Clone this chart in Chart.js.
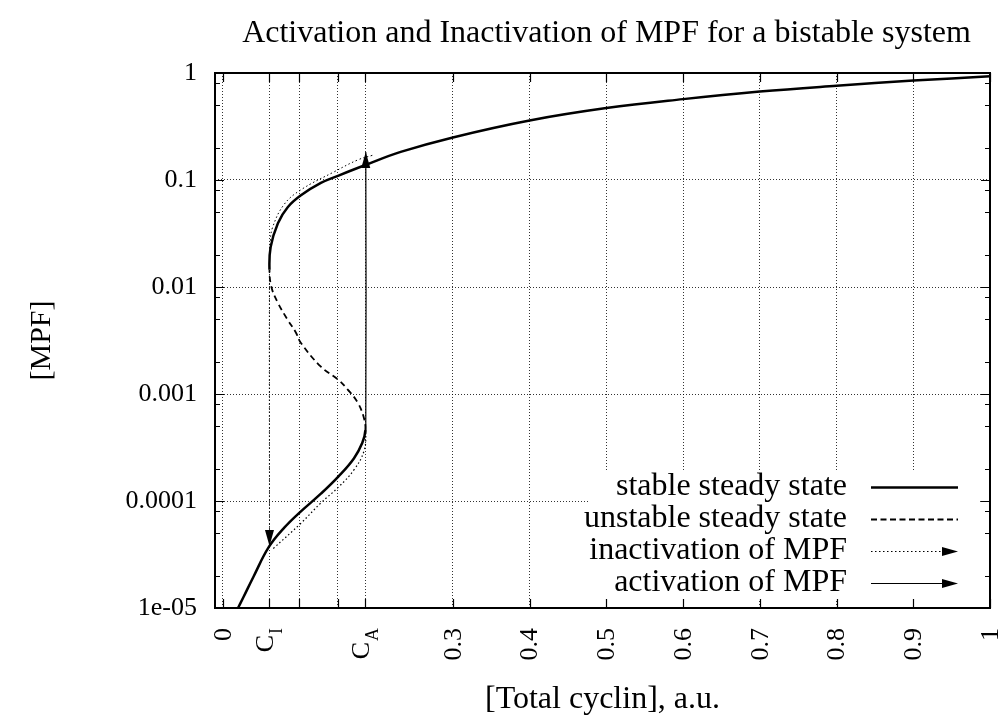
<!DOCTYPE html>
<html><head><meta charset="utf-8">
<script src="https://cdn.jsdelivr.net/npm/chart.js@4/dist/chart.umd.min.js"></script>
<style>html,body{margin:0;padding:0;background:#fff}#wrap{width:999px;height:722px}</style>
</head><body><div id="wrap"><canvas id="c" width="999" height="722"></canvas></div>
<script>
// ---------- data ----------
const chartTitle = 'Activation and Inactivation of MPF for a bistable system';
const xTitle = '[Total cyclin], a.u.';
const yTitle = '[MPF]';

const xTickValues = [0, 0.061, 0.1, 0.15, 0.186, 0.3, 0.4, 0.5, 0.6, 0.7, 0.8, 0.9, 1];
const xTickLabels = ['0', 'C_I', '', '', 'C_A', '0.3', '0.4', '0.5', '0.6', '0.7', '0.8', '0.9', '1'];
const yMajorTicks = [1e-5, 1e-4, 1e-3, 1e-2, 1e-1, 1];
const yTickLabels = ['1e-05', '0.0001', '0.001', '0.01', '0.1', '1'];
const yMinorMultipliers = [2, 5, 8];

// stable steady state, lower branch (total cyclin, MPF)
const stableLowerX = [0.020, 0.027, 0.040, 0.060, 0.080, 0.102, 0.128, 0.151, 0.171, 0.182, 0.186];
const stableLowerY = [1.0e-5, 1.26e-5, 1.95e-5, 3.7e-5, 5.6e-5, 8.0e-5, 1.17e-4, 1.7e-4, 2.5e-4, 3.5e-4, 4.6e-4];
// unstable steady state
const unstableX = [0.184, 0.176, 0.163, 0.151, 0.128, 0.102, 0.095, 0.085, 0.072, 0.0635, 0.061];
const unstableY = [6.0e-4, 8.3e-4, 1.1e-3, 1.35e-3, 1.8e-3, 3.0e-3, 3.8e-3, 4.9e-3, 7.1e-3, 0.0100, 0.0145];
// stable steady state, upper branch
const stableUpperX = [0.0625, 0.072, 0.085, 0.102, 0.128, 0.151, 0.186, 0.232, 0.3, 0.4, 0.5, 0.6, 0.7, 0.8, 0.9, 1.0];
const stableUpperY = [0.0236, 0.0395, 0.056, 0.072, 0.094, 0.11, 0.138, 0.183, 0.25, 0.36, 0.47, 0.57, 0.67, 0.76, 0.85, 0.93];
// inactivation trajectory
const inactX = [0.195, 0.176, 0.145, 0.102, 0.080, 0.065, 0.062, 0.061, 0.061];
const inactY = [0.17, 0.154, 0.119, 0.081, 0.059, 0.036, 0.026, 0.016, 3.8e-5];
// activation trajectory
const actX = [0.066, 0.102, 0.128, 0.151, 0.171, 0.184, 0.1865, 0.1865];
const actY = [3.6e-5, 6.2e-5, 9.6e-5, 1.35e-4, 1.95e-4, 2.9e-4, 4.2e-4, 0.183];

const legendLabels = ['stable steady state', 'unstable steady state', 'inactivation of MPF', 'activation of MPF'];

// ---------- build ----------
const SERIF = "'Liberation Serif', 'Times New Roman', serif";
const toPts = (xs, ys) => xs.map((x, i) => ({x: x, y: ys[i]}));
const sCurve = toPts(stableLowerX, stableLowerY)
  .concat(toPts(unstableX, unstableY))
  .concat(toPts(stableUpperX, stableUpperY));
const idxT1 = stableLowerX.length - 1;
const idxT2 = stableLowerX.length + unstableX.length - 1;
const isUnstable = c => c.p0DataIndex >= idxT1 && c.p1DataIndex <= idxT2;
const isMajorY = v => yMajorTicks.some(m => Math.abs(Math.log10(v) - Math.log10(m)) < 1e-6);
const GRID = 'rgba(0,0,0,0.8)';

function drawArrowHead(ctx, tx, ty, px, py, L, W) {
  let dx = tx - px, dy = ty - py;
  const d = Math.hypot(dx, dy) || 1; dx /= d; dy /= d;
  const bx = tx - dx * L, by = ty - dy * L;
  ctx.beginPath();
  ctx.moveTo(tx, ty);
  ctx.lineTo(bx - dy * W, by + dx * W);
  ctx.lineTo(bx + dy * W, by - dx * W);
  ctx.closePath();
  ctx.fillStyle = '#000';
  ctx.fill();
}

const decorPlugin = {
  id: 'decor',
  afterDatasetsDraw(chart) {
    const ctx = chart.ctx;
    const a = chart.chartArea;
    const xs = chart.scales.x, ys = chart.scales.y;
    ctx.save();
    // legend opaque box
    ctx.fillStyle = '#fff';
    ctx.fillRect(a.right - 400, a.bottom - 138, 388, 129);

    // arrowheads on trajectories
    [1, 2].forEach(i => {
      const pts = chart.getDatasetMeta(i).data;
      const t = pts[pts.length - 1], p = pts[pts.length - 2];
      drawArrowHead(ctx, t.x, t.y, p.x, p.y, 16, 4.5);
    });

    // frame
    ctx.strokeStyle = '#000';
    ctx.lineWidth = 2;
    ctx.setLineDash([]);
    ctx.strokeRect(a.left, a.top, a.right - a.left, a.bottom - a.top);

    // inward tick marks
    ctx.lineWidth = 1.2;
    ctx.beginPath();
    xTickValues.forEach(v => {
      const px = Math.round(xs.getPixelForValue(v)) + 0.5;
      ctx.moveTo(px, a.bottom); ctx.lineTo(px, a.bottom - 9);
      ctx.moveTo(px, a.top); ctx.lineTo(px, a.top + 9);
    });
    ys.ticks.forEach(t => {
      const py = Math.round(ys.getPixelForValue(t.value)) + 0.5;
      const L = isMajorY(t.value) ? 9 : 5;
      ctx.moveTo(a.left, py); ctx.lineTo(a.left + L, py);
      ctx.moveTo(a.right, py); ctx.lineTo(a.right - L, py);
    });
    ctx.stroke();

    // x tick labels (rotated, with subscripts)
    ctx.fillStyle = '#000';
    xTickValues.forEach((v, i) => {
      const lab = xTickLabels[i];
      if (!lab) return;
      const px = xs.getPixelForValue(v);
      ctx.save();
      ctx.translate(px, a.bottom + 20);
      ctx.rotate(-Math.PI / 2);
      ctx.textAlign = 'right';
      ctx.textBaseline = 'middle';
      if (lab.indexOf('_') >= 0) {
        const [main, sub] = lab.split('_');
        ctx.font = '18px ' + SERIF;
        const sw = ctx.measureText(sub).width;
        ctx.fillText(sub, 0, 8);
        ctx.font = '26px ' + SERIF;
        ctx.fillText(main, -sw - 1, -3);
      } else {
        ctx.font = '26px ' + SERIF;
        ctx.fillText(lab, 0, 1);
      }
      ctx.restore();
    });

    // legend
    ctx.font = '32px ' + SERIF;
    ctx.textAlign = 'right';
    ctx.textBaseline = 'middle';
    const tx = a.right - 143, l1 = a.right - 119, l2 = a.right - 32;
    legendLabels.forEach((lab, i) => {
      const y = a.bottom - 121 + i * 32;
      ctx.fillStyle = '#000';
      ctx.fillText(lab, tx, y);
      ctx.beginPath();
      ctx.strokeStyle = '#000';
      if (i === 0) { ctx.lineWidth = 2.5; ctx.setLineDash([]); }
      if (i === 1) { ctx.lineWidth = 1.8; ctx.setLineDash([6, 3.5]); }
      if (i === 2) { ctx.lineWidth = 1; ctx.setLineDash([1.5, 2.5]); }
      if (i === 3) { ctx.lineWidth = 1.2; ctx.setLineDash([]); }
      ctx.moveTo(l1, y + 0.5); ctx.lineTo(i >= 2 ? l2 - 8 : l2, y + 0.5);
      ctx.stroke();
      ctx.setLineDash([]);
      if (i >= 2) drawArrowHead(ctx, l2, y + 0.5, l1, y + 0.5, 16, 4.5);
    });

    // title
    ctx.font = '32px ' + SERIF;
    ctx.textAlign = 'center';
    ctx.textBaseline = 'middle';
    ctx.fillText(chartTitle, (a.left + a.right) / 2 + 4, 34);
    ctx.restore();
  }
};

new Chart(document.getElementById('c').getContext('2d'), {
  type: 'line',
  data: {
    datasets: [
      { label: legendLabels[0], data: sCurve, borderColor: '#000', borderWidth: 2.5, pointRadius: 0, tension: 0.4, fill: false,
        segment: { borderDash: c => isUnstable(c) ? [6, 4] : undefined, borderWidth: c => isUnstable(c) ? 1.8 : undefined } },
      { label: legendLabels[2], data: toPts(inactX, inactY), borderColor: '#000', borderWidth: 1, borderDash: [1.5, 2.5], pointRadius: 0, tension: 0.4, fill: false },
      { label: legendLabels[3], data: toPts(actX, actY), borderColor: '#000', borderWidth: 1.2, pointRadius: 0, tension: 0.4, fill: false,
        segment: { borderDash: c => Math.abs(c.p0.parsed.x - c.p1.parsed.x) > 1e-9 ? [1.5, 2.5] : undefined } }
    ]
  },
  options: {
    responsive: false, animation: false, devicePixelRatio: 1,
    layout: { padding: { top: 73, right: 9, left: 0, bottom: 0 } },
    plugins: { legend: { display: false }, title: { display: false }, tooltip: { enabled: false } },
    scales: {
      x: {
        type: 'linear', min: -0.01, max: 1,
        afterBuildTicks: s => { s.ticks = xTickValues.map(v => ({ value: v })); },
        afterFit: s => { s.height = 114; },
        ticks: { display: false },
        grid: { color: GRID, lineWidth: 1, drawTicks: false },
        border: { display: false, dash: [1, 2] },
        title: { display: true, text: xTitle, color: '#000', font: { family: SERIF, size: 32 }, padding: { top: 0, bottom: 3 } }
      },
      y: {
        type: 'logarithmic', min: 1e-5, max: 1,
        afterBuildTicks: s => {
          const t = [];
          yMajorTicks.forEach(m => {
            t.push({ value: m, major: true });
            if (m < 1) yMinorMultipliers.forEach(k => t.push({ value: m * k }));
          });
          s.ticks = t;
        },
        afterFit: s => { s.width = 215; },
        ticks: {
          autoSkip: false, padding: 18, color: '#000', font: { family: SERIF, size: 26 },
          callback: v => { const i = yMajorTicks.findIndex(m => Math.abs(Math.log10(v) - Math.log10(m)) < 1e-6); return i >= 0 ? yTickLabels[i] : ''; }
        },
        grid: { color: c => (c.tick && isMajorY(c.tick.value)) ? GRID : 'rgba(0,0,0,0)', lineWidth: 1, drawTicks: false },
        border: { display: false, dash: [1, 2] },
        title: { display: true, text: yTitle, color: '#000', font: { family: SERIF, size: 30 }, padding: { top: 24, bottom: 0 } }
      }
    }
  },
  plugins: [decorPlugin]
});
</script></body></html>
